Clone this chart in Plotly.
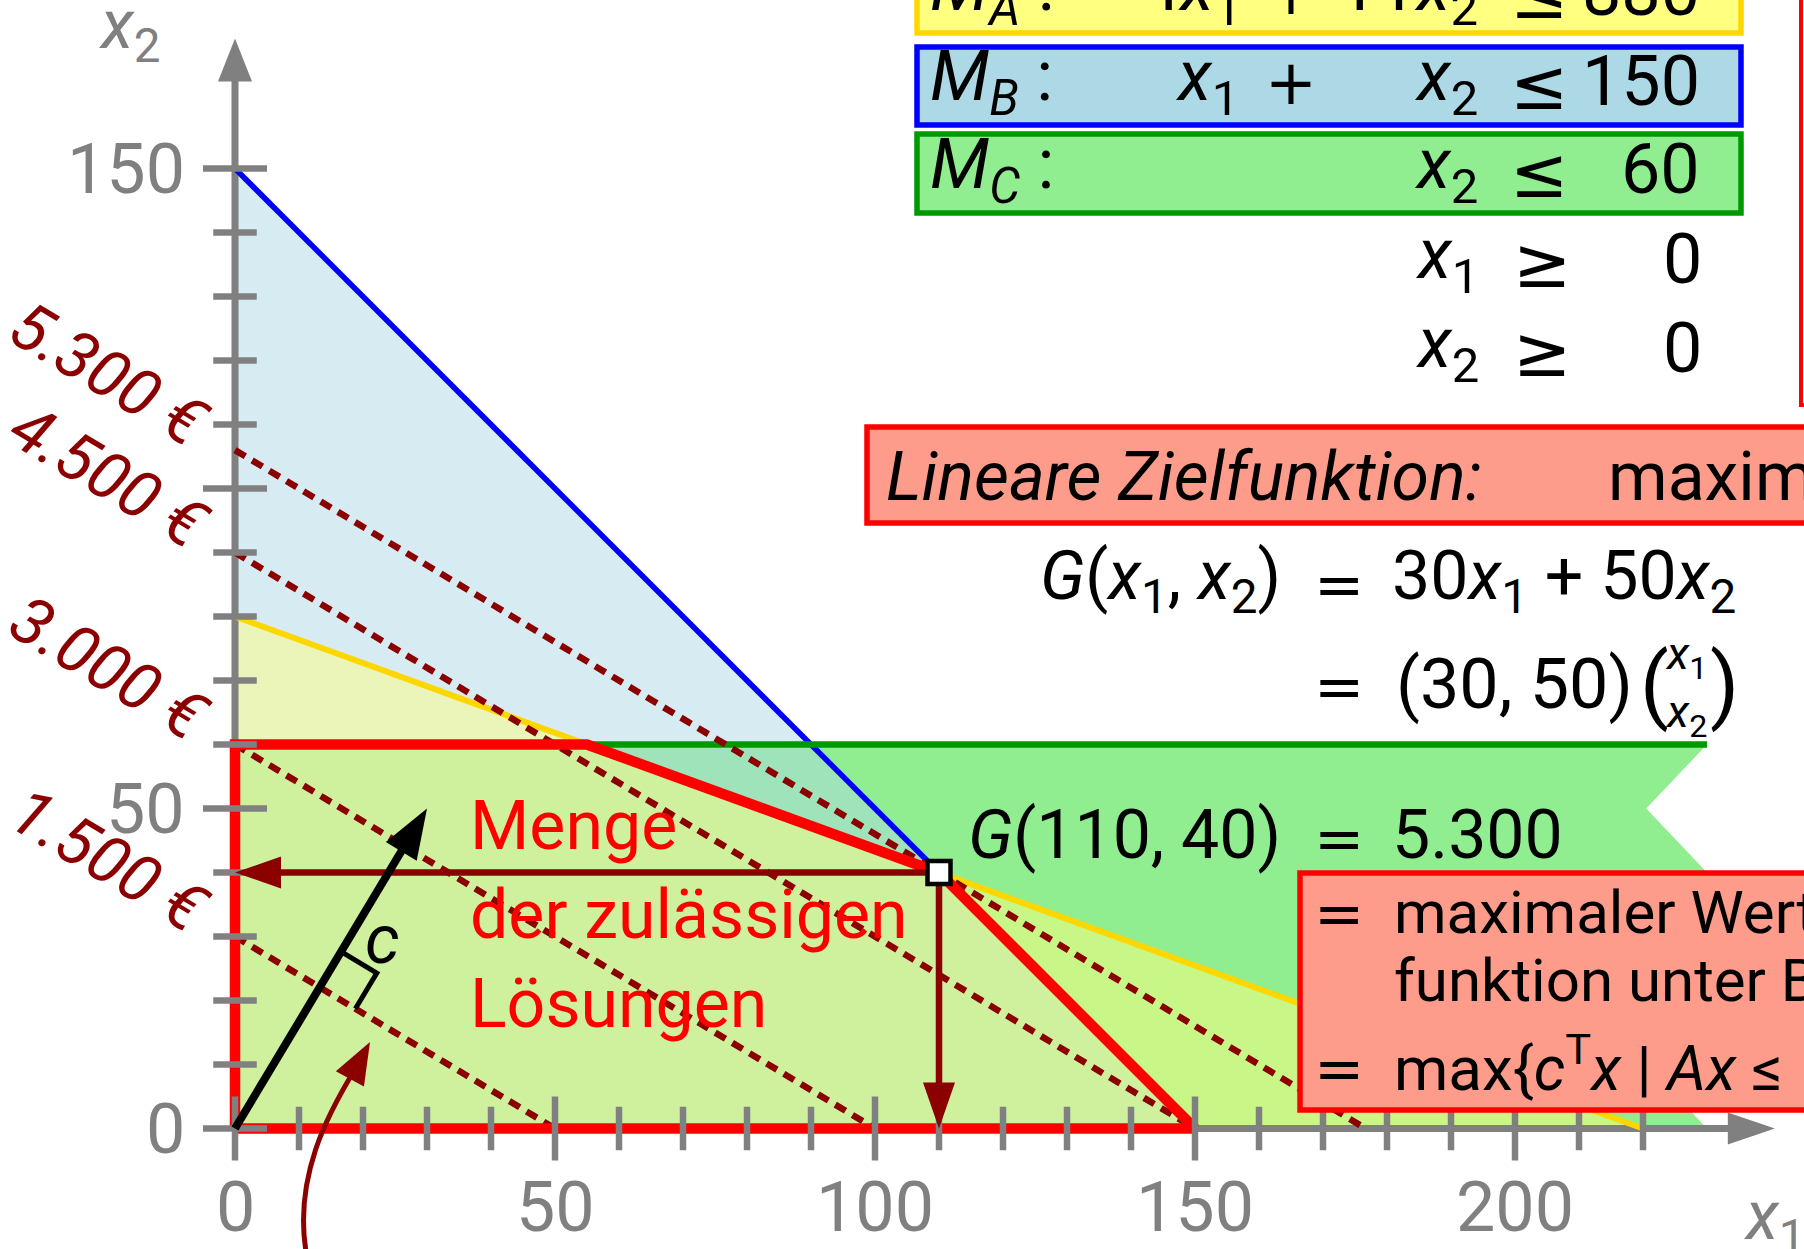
import math
import plotly.graph_objects as go

# ---------------- data ----------------
constraint_names = ["A", "B", "C"]
coef_x1 = [4, 1, 0]
coef_x2 = [11, 1, 1]
rhs = [880, 150, 60]
profit = [30, 50]                      # c = (30, 50)
profit_levels = [1500, 3000, 4500, 5300]
level_labels = ["1.500 €", "3.000 €", "4.500 €", "5.300 €"]
optimum = [110, 40]
optimum_value = "5.300"
feasible_x1 = [0, 0, 55, 110, 150, 0]
feasible_x2 = [0, 60, 60, 40, 0, 0]
green_edge_x1 = [230, 220.5, 230, 220.5, 230, 220.5, 230]
green_edge_x2 = [60, 50, 40, 30, 20, 10, 0]
x_major = [0, 50, 100, 150, 200]
x_major_labels = ["0", "50", "100", "150", "200"]
x_minor = [10, 20, 30, 40, 60, 70, 80, 90, 110, 120, 130, 140, 160, 170, 180, 190, 210, 220]
y_major = [0, 50, 100, 150]
y_major_labels = ["0", "50", "", "150"]
y_minor = [10, 20, 30, 40, 60, 70, 80, 90, 110, 120, 130, 140]
x_axis_end = 240.6
y_axis_end = 170.3

# ---------------- geometry helpers ----------------
W, H = 1804, 1249
OX, OY, S = 235.0, 1128.5, 6.4          # origin pixel and px per unit


def ux(px):
    return (px - OX) / S


def uy(py):
    return (OY - py) / S


def fx(px):
    return px / W


def fy(py):
    return 1 - py / H


FONT = "Roboto, 'DejaVu Sans', sans-serif"
MATH = "'DejaVu Sans', sans-serif"
GRAY = "#808080"
DRED = "#8B0000"
SALMON = "#FD9C8A"

fig = go.Figure()


def poly(xs, ys, color):
    fig.add_trace(go.Scatter(x=xs, y=ys, mode="lines", fill="toself", fillcolor=color,
                             line=dict(width=0, color=color), hoverinfo="skip"))


def line(xs, ys, color, width, dash="solid"):
    fig.add_trace(go.Scatter(x=xs, y=ys, mode="lines", hoverinfo="skip",
                             line=dict(color=color, width=width, dash=dash)))


def arrow(x0, y0, x1, y1, color, width, head_len_px, head_half_px):
    dx, dy = x1 - x0, y1 - y0
    n = math.hypot(dx, dy)
    ux_, uy_ = dx / n, dy / n
    L = head_len_px / S
    h = head_half_px / S
    bx, by = x1 - L * ux_, y1 - L * uy_
    line([x0, bx + 0.3 * L * ux_], [y0, by + 0.3 * L * uy_], color, width)
    px_, py_ = -uy_, ux_
    poly([x1, bx + h * px_, bx - h * px_, x1], [y1, by + h * py_, by - h * py_, y1], color)


# ---------------- fills ----------------
poly([0, 0] + green_edge_x1 + [0], [0, rhs[2]] + green_edge_x2 + [0], "#90EE90")
poly([0, 0, rhs[1] / coef_x1[1], 0], [0, rhs[1] / coef_x2[1], 0, 0], "rgba(173,216,230,0.5)")
poly([0, 0, rhs[0] / coef_x1[0], 0], [0, rhs[0] / coef_x2[0], 0, 0], "rgba(255,255,128,0.5)")

# ---------------- axes ----------------
arrow(0, 0, x_axis_end, 0, GRAY, 7, 47, 16)
arrow(0, 0, 0, y_axis_end, GRAY, 7, 43, 17)

# ---------------- constraint lines ----------------
line([0, rhs[0] / coef_x1[0]], [rhs[0] / coef_x2[0], 0], "#FFD700", 6)
line([0, rhs[1] / coef_x1[1]], [rhs[1] / coef_x2[1], 0], "#0000FF", 5.5)
line([0, green_edge_x1[0]], [rhs[2], rhs[2]], "#009900", 6.5)

# ---------------- iso-profit lines ----------------
for L in profit_levels:
    line([0, L / profit[0]], [L / profit[1], 0], DRED, 6.5, dash="12px,8px")

# ---------------- feasible region ----------------
line(feasible_x1, feasible_x2, "#FF0000", 10.5)

# ---------------- ticks ----------------
tx, ty = [], []
for v in x_major:
    tx += [v, v, None]; ty += [-5, 5, None]
for v in x_minor:
    tx += [v, v, None]; ty += [-3.4, 3.4, None]
for v in y_major:
    tx += [-5, 5, None]; ty += [v, v, None]
for v in y_minor:
    tx += [-3.4, 3.4, None]; ty += [v, v, None]
line(tx, ty, GRAY, 6.5)

# ---------------- arrows from the optimum ----------------
arrow(optimum[0], optimum[1], 0, optimum[1], DRED, 6.5, 46, 16)
arrow(optimum[0], optimum[1], optimum[0], 0, DRED, 6.5, 46, 16)

# ---------------- gradient vector c ----------------
arrow(0, 0, profit[0], profit[1], "black", 8, 50, 18)
cn = math.hypot(profit[0], profit[1])
uc = (profit[0] / cn, profit[1] / cn)
ul = (profit[1] / cn, -profit[0] / cn)
t = profit_levels[0] / (profit[0] ** 2 + profit[1] ** 2)
P = (t * profit[0], t * profit[1])
s = 6.5
A = (P[0] + s * uc[0], P[1] + s * uc[1])
B = (A[0] + s * ul[0], A[1] + s * ul[1])
C = (P[0] + s * ul[0], P[1] + s * ul[1])
line([A[0], B[0], C[0]], [A[1], B[1], C[1]], "black", 5)

# ---------------- curved pointer arrow ----------------
tip = (ux(370), uy(1042))
d = (18, -33)
dn = math.hypot(*d)
du = (d[0] / dn, -d[1] / dn)
Lh, hh = 42 / S, 16 / S
base = (tip[0] - Lh * du[0], tip[1] - Lh * du[1])
path = "M {},{} C {},{} {},{} {},{}".format(
    ux(308), uy(1262), ux(290), uy(1180), ux(330), uy(1110),
    base[0] + 0.3 * Lh * du[0], base[1] + 0.3 * Lh * du[1])
fig.add_shape(type="path", path=path, xref="x", yref="y", line=dict(color=DRED, width=5))
nrm = (-du[1], du[0])
poly([tip[0], base[0] + hh * nrm[0], base[0] - hh * nrm[0], tip[0]],
     [tip[1], base[1] + hh * nrm[1], base[1] - hh * nrm[1], tip[1]], DRED)

# ---------------- optimum marker ----------------
fig.add_trace(go.Scatter(x=[optimum[0]], y=[optimum[1]], mode="markers", hoverinfo="skip",
                         marker=dict(symbol="square", size=23, color="white",
                                     line=dict(color="black", width=4.5))))

# ---------------- boxes ----------------
def box(x0, y0, x1, y1, fill, border, width=5.5):
    fig.add_shape(type="rect", xref="paper", yref="paper", x0=fx(x0), x1=fx(x1),
                  y0=fy(y0), y1=fy(y1), fillcolor=fill, line=dict(color=border, width=width),
                  layer="above")


box(917, -60, 1741, 33, "#FFFF80", "#FFD700")
box(917, 47, 1741, 125, "#ADD8E6", "#0000FF")
box(917, 134, 1741, 213, "#90EE90", "#009900")
box(867, 427, 1950, 523, SALMON, "#FF0000")
box(1300, 873, 1950, 1110, SALMON, "#FF0000")
box(1801, -60, 1990, 405, "white", "#FF0000", 4)

# ---------------- texts ----------------
ann = []


def txt(s_, px, py, size=68, color="black", xa="left", ya="middle", angle=0, family=FONT):
    ann.append(dict(text=s_, x=fx(px), y=fy(py), xref="paper", yref="paper", showarrow=False,
                    xanchor=xa, yanchor=ya, textangle=angle,
                    font=dict(size=size, color=color, family=family)))


def op(sym, px, py, size=62, color="black"):
    txt(sym, px, py, size=size, color=color, xa="center", family=MATH)


def xs(i):
    return "<i>x</i><sub>{}</sub>".format(i)


# constraint rows
rows_y = [-9.5, 80.5, 169]
for k, name in enumerate(constraint_names):
    yy = rows_y[k]
    txt("<i>M</i><sub><i>{}</i></sub> :".format(name), 928, yy, size=70)
    if coef_x1[k]:
        c1 = "" if coef_x1[k] == 1 else str(coef_x1[k])
        txt(c1 + xs(1), 1173 if c1 == "" else 1139, yy, size=70)
        op("+", 1291, yy + 2, size=62)
    c2 = "" if coef_x2[k] == 1 else str(coef_x2[k])
    txt(c2 + xs(2), 1480, yy, xa="right", size=70)
    op("≤", 1539, yy + 4, size=70)
    txt(str(rhs[k]), 1702, yy, xa="right", size=70)
for i, yy in [(1, 258.7), (2, 348)]:
    txt(xs(i), 1481, yy, xa="right", size=70)
    op("≥", 1542, yy + 4, size=70)
    txt("0", 1704, yy, xa="right", size=70)

# objective
txt("<i>Lineare Zielfunktion:</i>", 884, 477)
txt("maxim", 1606, 477)
txt("<i>G</i>(" + xs(1) + ", " + xs(2) + ")", 1283, 580, xa="right")
op("=", 1339, 584, size=60)
txt("{}{} + {}{}".format(profit[0], xs(1), profit[1], xs(2)), 1390, 580)
op("=", 1339, 686, size=60)
txt("({}, {})".format(profit[0], profit[1]), 1394, 684, size=70)
txt("(", 1654, 684, size=84, xa="center")
txt(")", 1724, 684, size=84, xa="center")
txt(xs(1), 1686, 656, size=46, xa="center")
txt(xs(2), 1686, 714, size=46, xa="center")
txt("<i>G</i>({}, {})".format(optimum[0], optimum[1]), 1283, 835, xa="right")
op("=", 1339, 838, size=60)
txt(optimum_value, 1390, 835)
op("=", 1339, 913, size=60)
txt("maximaler Wert", 1392, 912, size=60)
txt("funktion unter B", 1392, 980, size=60)
op("=", 1339, 1068, size=60)
txt("max{<i>c</i><sup>T</sup><i>x</i> | <i>Ax</i> ≤", 1392, 1064, size=62)

# feasible set label
txt("Menge", 468, 826, color="#FF0000")
txt("der zulässigen", 468, 915, color="#FF0000")
txt("Lösungen", 468, 1004, color="#FF0000")
txt("<i>c</i>", 382, 940, xa="center")

# tick labels
for v, lab in zip(x_major, x_major_labels):
    txt(lab, OX + v * S, 1207, color=GRAY, xa="center", size=70)
for v, lab in zip(y_major, y_major_labels):
    if lab:
        txt(lab, 187, OY - v * S, color=GRAY, xa="right", size=70)
txt(xs(2), 97, 30, color=GRAY)
txt(xs(1), 1742, 1220, color=GRAY)

# iso-profit labels
ang = math.degrees(math.atan2(profit[0], profit[1]))
lx = -19.7
for L, lab in zip(profit_levels, level_labels):
    ly = (L - profit[0] * lx) / profit[1]
    txt("<i>{}</i>".format(lab), OX + lx * S, OY - ly * S, size=66, color=DRED,
        xa="center", angle=ang)

fig.update_layout(
    width=W, height=H, margin=dict(l=0, r=0, t=0, b=0, pad=0),
    xaxis=dict(range=[ux(0), ux(W)], visible=False),
    yaxis=dict(range=[uy(H), uy(0)], visible=False),
    plot_bgcolor="white", paper_bgcolor="white", showlegend=False,
    annotations=ann,
)

fig.write_html("out.html", config={"displayModeBar": False},
               post_script="document.body.style.margin='0';")
